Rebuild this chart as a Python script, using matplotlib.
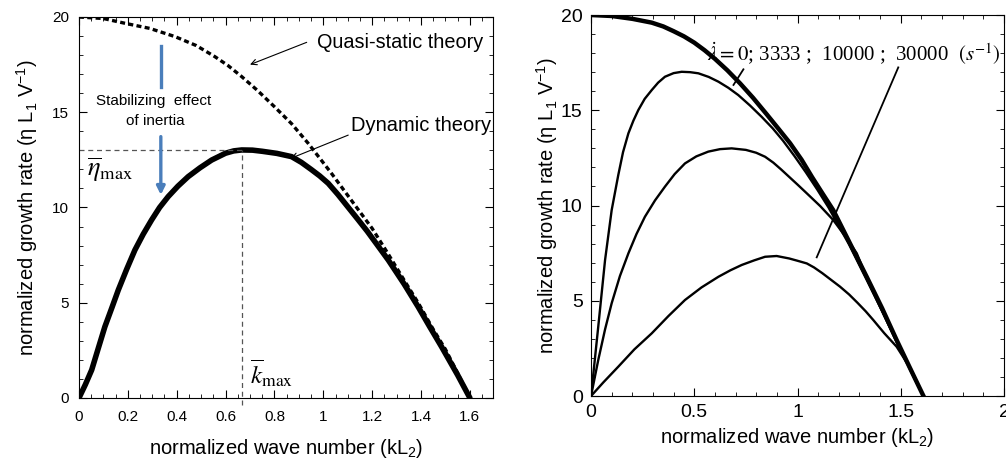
import numpy as np
import matplotlib
matplotlib.use('Agg')
import matplotlib.pyplot as plt
from matplotlib.ticker import MultipleLocator

plt.rcParams['font.family'] = ['Liberation Sans', 'DejaVu Sans']
plt.rcParams['mathtext.fontset'] = 'custom'
plt.rcParams['mathtext.rm'] = 'Liberation Sans'
plt.rcParams['mathtext.it'] = 'Liberation Sans:italic'

# left panel: quasi-static theory
k_qs = [0, 0.1, 0.188, 0.29, 0.393, 0.48, 0.556, 0.61, 0.666, 0.73, 0.8, 0.87, 0.938, 1.03, 1.129, 1.2, 1.266, 1.33, 1.388, 1.45, 1.5, 1.55, 1.6]
eta_qs = [20.0, 19.92, 19.67, 19.4, 18.97, 18.5, 17.92, 17.45, 16.87, 16.15, 15.29, 14.4, 13.37, 11.85, 10.13, 8.9, 7.55, 6.2, 5.0, 3.6, 2.55, 1.3, 0.0]

# left panel: dynamic theory
k_dyn = [0, 0.026, 0.052, 0.08, 0.106, 0.135, 0.161, 0.195, 0.229, 0.263, 0.297, 0.33, 0.365, 0.405, 0.447, 0.495, 0.543, 0.6, 0.633, 0.666, 0.71, 0.75, 0.81, 0.87, 0.91, 0.95, 0.985, 1.02, 1.06, 1.1, 1.14, 1.18, 1.22, 1.266, 1.33, 1.388, 1.435, 1.484, 1.55, 1.6]
eta_dyn = [0.0, 0.7, 1.47, 2.65, 3.74, 4.75, 5.67, 6.75, 7.77, 8.6, 9.34, 10.0, 10.57, 11.12, 11.62, 12.08, 12.49, 12.85, 12.97, 13.02, 13.01, 12.95, 12.84, 12.67, 12.37, 12.0, 11.66, 11.27, 10.68, 10.04, 9.4, 8.75, 8.05, 7.24, 6.0, 4.79, 3.75, 2.69, 1.2, 0.0]

# right panel: lambda dot = 0, 3333, 10000, 30000 s^-1
k_r0 = [0, 0.1, 0.2, 0.294, 0.35, 0.4, 0.45, 0.5, 0.55, 0.6, 0.66, 0.722, 0.785, 0.85, 0.91, 0.964, 1.02, 1.07, 1.12, 1.173, 1.25, 1.335, 1.41, 1.48, 1.55, 1.61]
eta_r0 = [20.0, 19.95, 19.8, 19.6, 19.4, 19.15, 18.88, 18.55, 18.15, 17.7, 17.1, 16.41, 15.65, 14.8, 14.0, 13.27, 12.4, 11.5, 10.65, 9.76, 8.1, 6.26, 4.6, 2.94, 1.35, 0.0]

k_r1 = [0, 0.035, 0.068, 0.1, 0.132, 0.155, 0.181, 0.205, 0.229, 0.26, 0.294, 0.325, 0.358, 0.4, 0.439, 0.48, 0.52, 0.57, 0.617, 0.665, 0.713, 0.77, 0.826, 0.88, 0.93, 0.985, 1.04, 1.095, 1.15, 1.25, 1.335, 1.41, 1.48, 1.55, 1.61]
eta_r1 = [0.0, 3.64, 7.14, 9.76, 11.6, 12.8, 13.79, 14.45, 15.01, 15.6, 16.06, 16.45, 16.76, 16.95, 17.02, 17.0, 16.94, 16.75, 16.5, 16.18, 15.8, 15.25, 14.66, 14.05, 13.4, 12.6, 11.75, 10.85, 9.9, 7.95, 6.1, 4.45, 2.85, 1.3, 0.0]

k_r2 = [0, 0.035, 0.068, 0.1, 0.14, 0.181, 0.22, 0.261, 0.31, 0.358, 0.405, 0.455, 0.51, 0.568, 0.625, 0.681, 0.75, 0.8, 0.843, 0.883, 0.92, 0.96, 1.0, 1.045, 1.11, 1.173, 1.23, 1.287, 1.335, 1.41, 1.48, 1.55, 1.61]
eta_r2 = [0.0, 1.89, 3.5, 4.87, 6.3, 7.49, 8.5, 9.41, 10.27, 10.99, 11.65, 12.21, 12.58, 12.83, 12.96, 13.0, 12.92, 12.77, 12.56, 12.25, 11.9, 11.5, 11.1, 10.64, 9.97, 9.24, 8.4, 7.49, 6.2, 4.45, 2.85, 1.3, 0.0]

k_r3 = [0, 0.06, 0.132, 0.21, 0.294, 0.375, 0.455, 0.535, 0.617, 0.675, 0.73, 0.79, 0.843, 0.899, 0.96, 1.0, 1.045, 1.08, 1.12, 1.16, 1.206, 1.25, 1.29, 1.33, 1.367, 1.42, 1.48, 1.55, 1.609]
eta_r3 = [0.0, 0.72, 1.54, 2.45, 3.29, 4.2, 5.04, 5.7, 6.26, 6.6, 6.88, 7.12, 7.31, 7.35, 7.22, 7.1, 6.96, 6.75, 6.45, 6.12, 5.74, 5.33, 4.9, 4.45, 3.99, 3.3, 2.59, 1.4, 0.0]

k_max = 0.666
eta_max = 13.0

fig = plt.figure(figsize=(10.06, 4.68), dpi=100)

# ---------- left panel ----------
ax1 = fig.add_axes([0.0785, 0.1496, 0.4112, 0.8141])
ax1.plot(k_qs, eta_qs, color='k', lw=2.4, ls=(0, (1.5, 1.0)))
ax1.plot(k_dyn, eta_dyn, color='k', lw=4.0, solid_capstyle='round', solid_joinstyle='round')
ax1.plot([0, k_max], [eta_max, eta_max], color='#555555', lw=0.9, ls=(0, (4, 3)))
ax1.plot([k_max, k_max], [-0.35, eta_max], color='#555555', lw=0.9, ls=(0, (4, 3)), clip_on=False)

ax1.annotate('', xy=(0.70, 17.5), xytext=(0.932, 18.67),
             arrowprops=dict(arrowstyle='->', color='k', lw=0.8, shrinkA=0, shrinkB=0))
ax1.text(0.973, 18.64, 'Quasi-static theory', fontsize=14.3, va='center', ha='left')
ax1.annotate('', xy=(0.867, 12.58), xytext=(1.102, 13.8),
             arrowprops=dict(arrowstyle='->', color='k', lw=0.8, shrinkA=0, shrinkB=0))
ax1.text(1.113, 14.33, 'Dynamic theory', fontsize=14.5, va='center', ha='left')

ax1.plot([0.335, 0.335], [18.48, 16.34], color='#4a7ebb', lw=2.4)
ax1.annotate('', xy=(0.335, 10.66), xytext=(0.335, 13.72),
             arrowprops=dict(arrowstyle='-|>', color='#4a7ebb', lw=2.4,
                             mutation_scale=12, shrinkA=0, shrinkB=0))
ax1.text(0.307, 15.6, 'Stabilizing  effect', fontsize=11, ha='center', va='center')
ax1.text(0.312, 14.56, 'of inertia', fontsize=11, ha='center', va='center')

ax1.text(0.127, 12.0, r'$\overline{\eta}_{\mathrm{max}}$', fontsize=19,
         math_fontfamily='stix', ha='center', va='center')
ax1.text(0.79, 1.3, r'$\overline{k}_{\mathrm{max}}$', fontsize=18,
         math_fontfamily='stix', ha='center', va='center')

ax1.set_xlim(0, 1.693)
ax1.set_ylim(0, 20)
ax1.xaxis.set_minor_locator(MultipleLocator(0.05))
ax1.yaxis.set_major_locator(MultipleLocator(5))
ax1.yaxis.set_minor_locator(MultipleLocator(1))
ax1.set_xticks([0, 0.2, 0.4, 0.6, 0.8, 1.0, 1.2, 1.4, 1.6])
ax1.set_xticklabels(['0', '0.2', '0.4', '0.6', '0.8', '1', '1.2', '1.4', '1.6'])
ax1.tick_params(which='both', direction='in', top=True, right=True, labelsize=11)
ax1.tick_params(axis='x', which='major', length=6, pad=9)
ax1.tick_params(axis='y', which='major', length=6, pad=7)
ax1.tick_params(which='minor', length=3)
ax1.set_xlabel('normalized wave number (kL$_2$)', fontsize=14.5, labelpad=9)
ax1.set_ylabel('normalized growth rate (η L$_1$ V$^{-1}$)', fontsize=14.5, labelpad=9)

# ---------- right panel ----------
ax2 = fig.add_axes([0.5875, 0.1538, 0.4105, 0.8141])
ax2.plot(k_r0, eta_r0, color='k', lw=3.2, solid_joinstyle='round')
ax2.plot(k_r1, eta_r1, color='k', lw=1.7, solid_joinstyle='round')
ax2.plot(k_r2, eta_r2, color='k', lw=1.7, solid_joinstyle='round')
ax2.plot(k_r3, eta_r3, color='k', lw=1.7, solid_joinstyle='round')

ax2.text(0.56, 17.95, r'$\dot{\lambda}=0$; 3333 ;  10000 ;  30000  $(s^{-1})$',
         fontsize=15.0, family='Liberation Serif', math_fontfamily='stix',
         ha='left', va='center')
ax2.plot([0.738, 0.69], [17.15, 16.33], color='k', lw=1.3)
ax2.plot([1.488, 1.093], [17.25, 7.28], color='k', lw=1.3)

ax2.set_xlim(0, 2)
ax2.set_ylim(0, 20)
ax2.xaxis.set_minor_locator(MultipleLocator(0.1))
ax2.yaxis.set_major_locator(MultipleLocator(5))
ax2.yaxis.set_minor_locator(MultipleLocator(1))
ax2.set_xticks([0, 0.5, 1.0, 1.5, 2.0])
ax2.set_xticklabels(['0', '0.5', '1', '1.5', '2'])
ax2.tick_params(which='both', direction='in', top=True, right=True, labelsize=14)
ax2.tick_params(which='major', length=6, pad=6)
ax2.tick_params(which='minor', length=3)
ax2.set_xlabel('normalized wave number (kL$_2$)', fontsize=14.5, labelpad=3)
ax2.set_ylabel('normalized growth rate (η L$_1$ V$^{-1}$)', fontsize=14.5, labelpad=1)

fig.savefig('out.png', dpi=100)
